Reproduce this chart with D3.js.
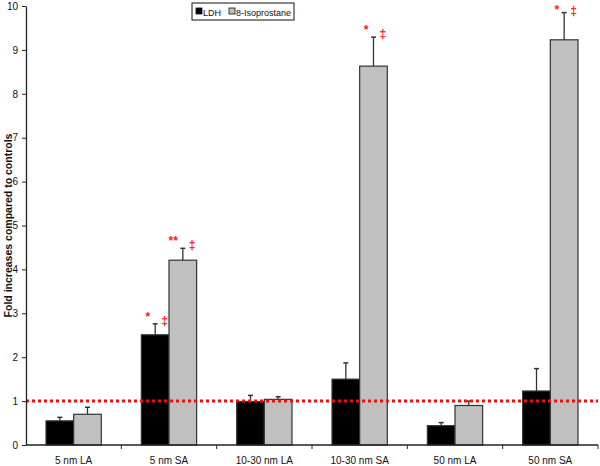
<!DOCTYPE html>
<html>
<head>
<meta charset="utf-8">
<script src="https://cdn.jsdelivr.net/npm/d3@7"></script>
<style>
body{margin:0;background:#fff;}
svg{display:block;font-family:"Liberation Sans",Arial,sans-serif;}
</style>
</head>
<body>
<svg id="chart" width="600" height="466"></svg>
<script>
const categories = ["5 nm LA","5 nm SA","10-30 nm LA","10-30 nm SA","50 nm LA","50 nm SA"];
const seriesNames = ["LDH","8-Isoprostane"];
const ldhValues = [0.55, 2.51, 0.99, 1.50, 0.44, 1.23];
const ldhErrors = [0.08, 0.25, 0.14, 0.37, 0.07, 0.51];
const isoValues = [0.70, 4.21, 1.04, 8.63, 0.90, 9.23];
const isoErrors = [0.16, 0.27, 0.06, 0.66, 0.10, 0.62];
const annotations = [
  {cat:"5 nm SA", series:"LDH", star:"*", dagger:"‡"},
  {cat:"5 nm SA", series:"8-Isoprostane", star:"**", dagger:"‡"},
  {cat:"10-30 nm SA", series:"8-Isoprostane", star:"*", dagger:"‡"},
  {cat:"50 nm SA", series:"8-Isoprostane", star:"*", dagger:"‡"}
];
const yTicks = [0,1,2,3,4,5,6,7,8,9,10];
const referenceLevel = 1;

const svg = d3.select("#chart");
const m = {left:26, right:2, top:6, bottom:21};
const W = 600, H = 466;

const x = d3.scaleBand().domain(categories).range([m.left, W - m.right]).padding(0);
const xs = d3.scaleBand().domain(seriesNames).range([x.bandwidth()*0.21, x.bandwidth()*0.79]).padding(0);
const y = d3.scaleLinear().domain([0,10]).range([H - m.bottom, m.top]);

const colors = {"LDH":"#000000","8-Isoprostane":"#c0c0c0"};

const rows = categories.map((c,i)=>({cat:c, vals:[
  {s:"LDH", v:ldhValues[i], e:ldhErrors[i]},
  {s:"8-Isoprostane", v:isoValues[i], e:isoErrors[i]}
]}));

const g = svg.append("g");
const groups = g.selectAll("g.grp").data(rows).join("g")
  .attr("transform", d=>`translate(${x(d.cat)},0)`);

groups.selectAll("line.err").data(d=>d.vals).join("line")
  .attr("x1", d=>xs(d.s)+xs.bandwidth()/2).attr("x2", d=>xs(d.s)+xs.bandwidth()/2)
  .attr("y1", d=>y(d.v)).attr("y2", d=>y(d.v+d.e))
  .attr("stroke","#333").attr("stroke-width",1.3);
groups.selectAll("line.cap").data(d=>d.vals).join("line")
  .attr("x1", d=>xs(d.s)+xs.bandwidth()/2-2.5).attr("x2", d=>xs(d.s)+xs.bandwidth()/2+2.5)
  .attr("y1", d=>y(d.v+d.e)).attr("y2", d=>y(d.v+d.e))
  .attr("stroke","#333").attr("stroke-width",1.5);

groups.selectAll("rect").data(d=>d.vals).join("rect")
  .attr("x", d=>xs(d.s)).attr("width", xs.bandwidth())
  .attr("y", d=>y(d.v)).attr("height", d=>y(0)-y(d.v))
  .attr("fill", d=>colors[d.s]).attr("stroke","#333").attr("stroke-width",1.2);

annotations.forEach(a=>{
  const i = categories.indexOf(a.cat);
  const vals = a.series==="LDH" ? [ldhValues[i], ldhErrors[i]] : [isoValues[i], isoErrors[i]];
  const cx = x(a.cat) + xs(a.series) + xs.bandwidth()/2;
  const top = y(vals[0]+vals[1]);
  g.append("text").attr("x", cx-5).attr("y", Math.max(top-3, 14)).attr("text-anchor","end")
    .attr("fill","#ff2020").attr("font-size",12).attr("font-weight","bold").text(a.star);
  g.append("text").attr("x", cx+6).attr("y", Math.max(top+1, 15)).attr("text-anchor","start")
    .attr("fill","#ff2020").attr("font-size",12).attr("font-weight","bold").text(a.dagger);
});

g.append("line").attr("x1", m.left).attr("x2", W - m.right)
  .attr("y1", y(referenceLevel)).attr("y2", y(referenceLevel))
  .attr("stroke","#ee1111").attr("stroke-width",3).attr("stroke-dasharray","3,3");

const yAxis = svg.append("g").attr("transform",`translate(${m.left},0)`)
  .call(d3.axisLeft(y).tickValues(yTicks).tickSize(4).tickSizeOuter(0));
yAxis.select(".domain").attr("stroke","#222").attr("stroke-width",1.3);
yAxis.selectAll(".tick line").attr("stroke","#222");
yAxis.selectAll("text").attr("font-size",10).attr("font-family","Liberation Sans, Arial, sans-serif").attr("fill","#111").attr("dx","-1");

const xAxis = svg.append("g").attr("transform",`translate(0,${y(0)})`);
xAxis.append("line").attr("x1", m.left).attr("x2", W - m.right).attr("y1",0).attr("y2",0)
  .attr("stroke","#222").attr("stroke-width",1.3);
xAxis.selectAll("line.tk").data(categories.slice(1).concat(["_end"])).join("line")
  .attr("x1", d=> d==="_end" ? W - m.right : x(d)).attr("x2", d=> d==="_end" ? W - m.right : x(d))
  .attr("y1",0).attr("y2",4).attr("stroke","#222");
xAxis.selectAll("text").data(categories).join("text")
  .attr("x", d=>x(d)+x.bandwidth()/2).attr("y", 19)
  .attr("text-anchor","middle").attr("font-size",10).attr("fill","#111").text(d=>d);

svg.append("text").attr("transform",`translate(12,${(y(0)+y(10))/2}) rotate(-90)`)
  .attr("text-anchor","middle").attr("font-size",10.5).attr("font-weight","bold").attr("fill","#111")
  .text("Fold increases compared to controls");

const lg = svg.append("g").attr("transform","translate(192,3)");
lg.append("rect").attr("x",0).attr("y",0).attr("width",102).attr("height",17)
  .attr("fill","#fff").attr("stroke","#111").attr("stroke-width",1);
seriesNames.forEach((s,i)=>{
  const ox = i===0 ? 4 : 37;
  lg.append("rect").attr("x",ox).attr("y",5).attr("width",6).attr("height",6)
    .attr("fill",colors[s]).attr("stroke","#111").attr("stroke-width",0.8);
  lg.append("text").attr("x",ox+7).attr("y",12.5).attr("font-size",9).attr("fill","#111").text(s);
});
</script>
</body>
</html>
